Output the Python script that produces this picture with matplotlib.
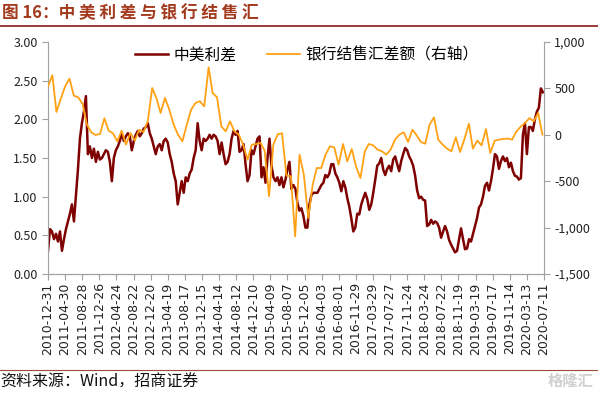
import pandas as pd
import matplotlib
matplotlib.use('Agg')
import matplotlib.pyplot as plt
from matplotlib.lines import Line2D
from matplotlib.ticker import FuncFormatter

plt.rcParams['font.family'] = ['Noto Sans CJK SC', 'DejaVu Sans']

# 中美利差（%），2010-12-31 起每 14 天一个读数
spread = [
    0.30, 0.58, 0.55, 0.45, 0.52, 0.42, 0.55, 0.30, 0.45, 0.58,
    0.68, 0.78, 0.90, 0.68, 1.02, 1.35, 1.75, 1.95, 2.10, 2.30,
    1.55, 1.65, 1.50, 1.62, 1.45, 1.58, 1.48, 1.50, 1.55, 1.60,
    1.58, 1.45, 1.20, 1.50, 1.60, 1.65, 1.72, 1.82, 1.72, 1.78,
    1.82, 1.78, 1.60, 1.72, 1.80, 1.85, 1.78, 1.82, 1.88, 1.90,
    1.95, 1.82, 1.75, 1.65, 1.55, 1.65, 1.68, 1.60, 1.72, 1.75,
    1.70, 1.55, 1.45, 1.30, 1.20, 0.90, 1.05, 1.20, 1.05, 1.25,
    1.20, 1.30, 1.35, 1.50, 1.60, 1.95, 1.72, 1.60, 1.75, 1.72,
    1.75, 1.80, 1.75, 1.80, 1.78, 1.72, 1.55, 1.70, 1.55, 1.42,
    1.45, 1.55, 1.75, 1.85, 1.80, 1.85, 1.58, 1.60, 1.68, 1.42,
    1.20, 1.28, 1.60, 1.55, 1.65, 1.75, 1.78, 1.25, 1.38, 1.18,
    1.50, 1.75, 1.40, 1.25, 1.20, 1.25, 1.15, 1.25, 1.12, 1.22,
    1.35, 1.45, 1.10, 1.15, 1.10, 0.92, 0.82, 0.85, 0.75, 0.60,
    0.60, 0.90, 1.02, 1.05, 1.05, 1.05, 1.10, 1.15, 1.18, 1.28,
    1.25, 1.30, 1.42, 1.42, 1.30, 1.25, 1.18, 1.07, 1.20, 1.12,
    0.98, 0.87, 0.72, 0.55, 0.60, 0.78, 0.77, 0.90, 0.98, 1.05,
    0.97, 0.83, 0.90, 1.05, 1.22, 1.40, 1.43, 1.50, 1.35, 1.28,
    1.36, 1.40, 1.33, 1.48, 1.52, 1.42, 1.33, 1.46, 1.55, 1.63,
    1.60, 1.52, 1.47, 1.40, 1.27, 1.08, 0.98, 1.00, 0.96, 0.95,
    0.62, 0.64, 0.70, 0.65, 0.68, 0.66, 0.60, 0.47, 0.55, 0.62,
    0.55, 0.44, 0.38, 0.33, 0.28, 0.30, 0.45, 0.59, 0.45, 0.32,
    0.33, 0.45, 0.42, 0.52, 0.62, 0.72, 0.86, 0.90, 1.00, 1.14,
    1.18, 1.08, 1.20, 1.36, 1.55, 1.52, 1.36, 1.46, 1.52, 1.46,
    1.50, 1.38, 1.44, 1.33, 1.27, 1.26, 1.22, 1.24, 1.80, 1.95,
    1.55, 1.90, 1.90, 1.85, 2.00, 2.10, 2.15, 2.40, 2.35,
]

# 银行结售汇差额（亿美元），2010-12 至 2020-06 月度
fx_balance = [
    522, 641, 246, 389, 522, 605, 422, 404, 332, 110,
    25, -2, 9, 178, 45, 16, -70, 45, -106, 19,
    -63, 55, 30, 145, 504, 389, 235, 397, 271, 109,
    1, -70, 109, 271, 343, 361, 307, 727, 450, 404,
    91, 37, 145, 37, 1, -106, -268, -106, -99, -88,
    -171, -663, -106, 5, 16, -440, -447, -1094, -214, -430,
    -897, -537, -358, -358, -214, -124, -135, -322, -99, -286,
    -153, -340, -466, -178, -99, -114, -160, -178, -214, -160,
    -52, 1, 27, -78, 55, -9, -78, -96, 109, 188,
    -52, -106, -149, -178, -27, -185, -45, 120, -149, -63,
    -114, 62, -196, -63, -52, -45, -40, -52, 37, 90,
    127, 181, 145, 235, 1,
]

spread_dates = pd.date_range('2010-12-31', periods=len(spread), freq='14D')
fx_dates = pd.date_range('2010-12-31', periods=len(fx_balance), freq='ME')
tick_dates = pd.date_range('2010-12-31', periods=30, freq='120D')

red = '#7F0000'
orange = '#FFA114'
grey = '#A0A0A0'

fig = plt.figure(figsize=(5.98, 3.94), dpi=100)
ax = fig.add_axes([48 / 598, 1 - 274 / 394, 496 / 598, 232 / 394])
ax2 = ax.twinx()

l1, = ax.plot(spread_dates, spread, color=red, lw=1.8)
l2, = ax2.plot(fx_dates, fx_balance, color=orange, lw=1.3)

ax.set_xlim(pd.Timestamp('2010-12-31'), pd.Timestamp('2020-07-11'))
ax.set_ylim(0, 3)
ax.set_yticks([0, 0.5, 1.0, 1.5, 2.0, 2.5, 3.0])
ax.yaxis.set_major_formatter(FuncFormatter(lambda v, p: f'{v:.2f}'))
ax2.set_ylim(-1500, 1000)
ax2.set_yticks([-1500, -1000, -500, 0, 500, 1000])
ax2.yaxis.set_major_formatter(FuncFormatter(lambda v, p: f'{v:,.0f}'))

ax.set_xticks(tick_dates)
ax.set_xticklabels([d.strftime('%Y-%m-%d') for d in tick_dates], rotation=90,
                   fontsize=9.5, family='DejaVu Sans')

for a in (ax, ax2):
    a.spines['top'].set_visible(False)
    for s in ('left', 'right', 'bottom'):
        a.spines[s].set_color(grey)
    a.tick_params(colors=grey, labelcolor='#222222', length=4, width=0.8,
                  labelsize=9)
ax2.spines['left'].set_visible(False)
ax.spines['right'].set_visible(False)
ax.tick_params(axis='x', pad=2)

ax2.legend([l1, l2], ['中美利差', '银行结售汇差额（右轴）'], loc='upper center',
           bbox_to_anchor=(0.522, 1.04), ncol=2, frameon=False, fontsize=11.3,
           handlelength=2.1, handletextpad=0.35, columnspacing=2.0)

# 标题与分隔线
fig.text(0.004, 1 - 13 / 394, '图 16：中 美 利 差 与 银 行 结 售 汇', fontsize=12,
         weight='bold', color='#A33A1E', va='center')
fig.add_artist(Line2D([0, 1], [1 - 25.5 / 394] * 2, color='#8B1A1A', lw=1.2))
fig.add_artist(Line2D([0, 1], [1 - 370 / 394] * 2, color='#9C4A3A', lw=0.8))
fig.text(0.0, 1 - 382 / 394, '资料来源：Wind，招商证券', fontsize=11.5,
         color='#111111', va='center')
fig.text(0.992, 1 - 381 / 394, '格隆汇', fontsize=11, weight='bold',
         color='#D0D0D0', ha='right', va='center')

fig.savefig('out.png', dpi=100)
